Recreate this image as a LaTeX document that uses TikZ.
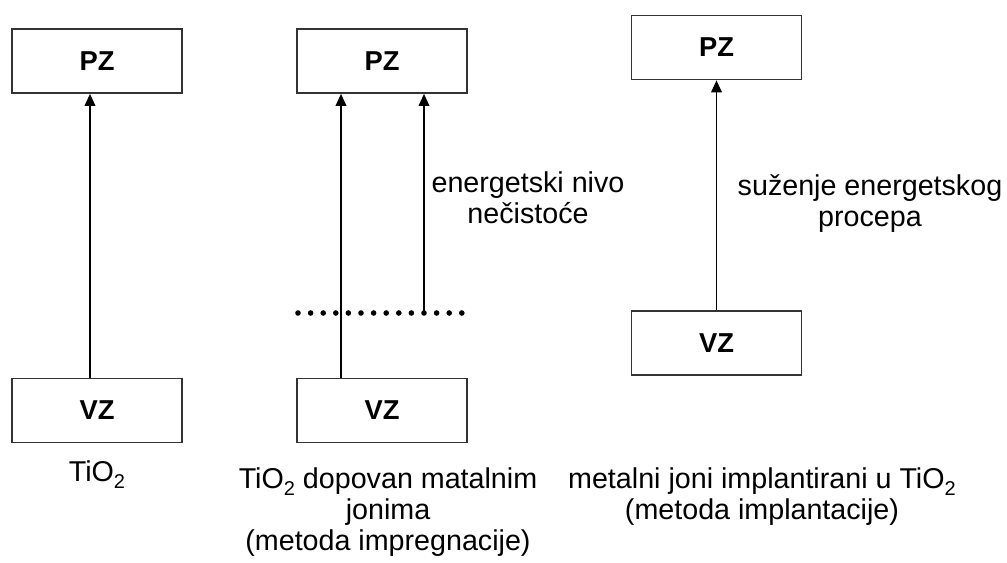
\documentclass[tikz,border=0pt]{standalone}
\usepackage{fontspec}
\setmainfont{Liberation Sans}
\usetikzlibrary{arrows.meta}
\newcommand\podindeks[1]{\raisebox{-0.5ex}{\fontsize{15}{15}\selectfont #1}}

\begin{document}
\begin{tikzpicture}[x=0.75pt,y=0.75pt,yscale=-1,xscale=1,
  zona/.style={draw=black!80, line width=1.3pt, minimum width=127.5pt, minimum height=48pt, inner sep=0pt, font=\fontsize{20.5}{23}\selectfont\bfseries},
  prelaz/.style={line width=1.1pt, -{Triangle[length=9pt,width=8pt]}},
  opis/.style={anchor=north, inner sep=0pt, align=center, font=\fontsize{21.5}{23.5}\selectfont}]
\path [use as bounding box] (0,0) rectangle (1007,563);

%Zone boxes
\node [zona] (pz1) at (97,61) {PZ};
\node [zona] (vz1) at (97,410.5) {VZ};
\node [zona] (pz2) at (382,61) {PZ};
\node [zona] (vz2) at (382,410.5) {VZ};
\node [zona] (pz3) at (716.5,47.5) {PZ};
\node [zona] (vz3) at (716.5,343) {VZ};

%Dotted impurity level
\foreach \i in {0,...,13}
  \fill (298+12.6*\i,313) circle (2.1pt);
\coordinate (nivo) at (424,313);

%Straight Lines
\draw [prelaz] ([xshift=-5.25pt]vz1.north) -- ([xshift=-5.25pt]pz1.south);
\draw [prelaz] ([xshift=-30.75pt]vz2.north) -- ([xshift=-30.75pt]pz2.south);
\draw [prelaz] (nivo) -- (nivo |- pz2.south);
\draw [prelaz] (vz3.north) -- (pz3.south);

% Text Node
\node [opis] (nec) at (528,171) {energetski nivo\\ nečistoće};
% Text Node
\node [opis] (suz) at (870,174) {suženje energetskog\\ procepa};
% Text Node
\node [opis] (t1) at (97,460) {TiO\podindeks{2}};
% Text Node
\node [opis] (t2) at (388,467) {TiO\podindeks{2} dopovan matalnim\\ jonima\\ (metoda impregnacije)};
% Text Node
\node [opis] (t3) at (762,467) {metalni joni implantirani u TiO\podindeks{2}\\ (metoda implantacije)};
\end{tikzpicture}
\end{document}
